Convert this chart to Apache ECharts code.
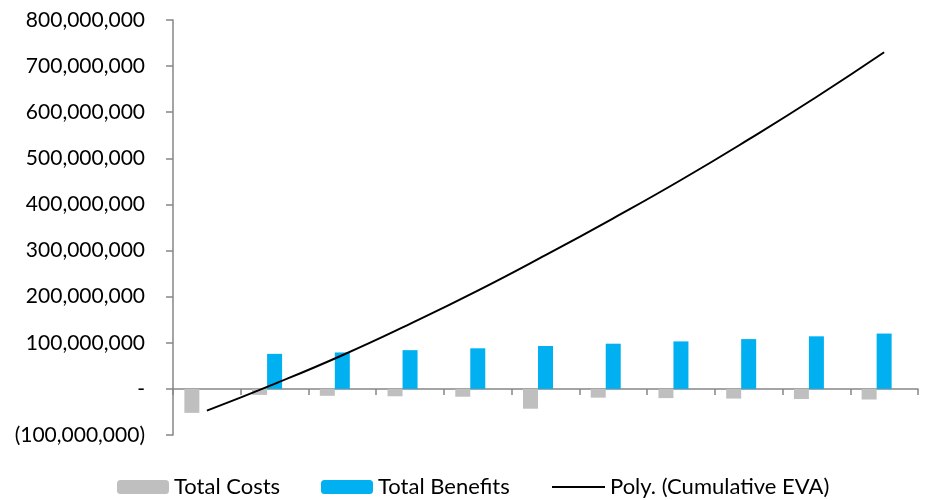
<!DOCTYPE html>
<html>
<head>
<meta charset="utf-8">
<script src="https://cdn.jsdelivr.net/npm/echarts@6/dist/echarts.min.js"></script>
<style>
  html, body { margin: 0; padding: 0; background: #fff; }
  #main { width: 925px; height: 500px; }
</style>
</head>
<body>
<div id="main"></div>
<script>
// years 0..10 (no axis labels shown)
var years = ['0', '1', '2', '3', '4', '5', '6', '7', '8', '9', '10'];
var totalCosts = [-52e6, -13e6, -15e6, -16e6, -17e6, -43e6, -19e6, -20e6, -21e6, -22e6, -23e6];
var totalBenefits = [0, 76e6, 79e6, 84e6, 88e6, 93e6, 98e6, 103e6, 108e6, 114e6, 120e6];
// trendline
var polyEVA = [-47e6, 11e6, 73e6, 141e6, 213e6, 290e6, 370e6, 453e6, 541e6, 633e6, 730e6];

var font = 'Lato';
var axisGray = '#868686';

function fmt(v) {
    if (v === 0) return '-';
    var s = Math.abs(v).toString().replace(/\B(?=(\d{3})+(?!\d))/g, ',');
    return v < 0 ? '(' + s + ')' : s;
}

var myChart = echarts.init(document.getElementById('main'));

var legendText = { fontFamily: font, fontSize: 22, color: '#000' };

option = {
    animation: false,
    grid: { left: 173, right: 7, top: 20, bottom: 65, containLabel: false },
    legend: [
        { data: ['Total Costs'], left: 117, top: 476, padding: 0, itemWidth: 52, itemHeight: 14, textStyle: legendText },
        { data: ['Total Benefits'], left: 321, top: 476, padding: 0, itemWidth: 52, itemHeight: 14, textStyle: legendText },
        {
            data: [{ name: 'Poly. (Cumulative EVA)', icon: 'rect' }],
            left: 552, top: 476, padding: 0, itemWidth: 53, itemHeight: 2,
            itemStyle: { color: '#000' },
            textStyle: legendText
        }
    ],
    xAxis: {
        type: 'category',
        data: years,
        boundaryGap: true,
        axisLine: { onZero: true, lineStyle: { color: axisGray, width: 1.5 } },
        axisTick: { show: true, length: 6, inside: false, lineStyle: { color: axisGray, width: 1.5 } },
        axisLabel: { show: false },
        splitLine: { show: false }
    },
    yAxis: {
        type: 'value',
        min: -100000000,
        max: 800000000,
        interval: 100000000,
        axisLine: { show: true, lineStyle: { color: axisGray, width: 1.5 } },
        axisTick: { show: true, length: 7, lineStyle: { color: axisGray, width: 1.5 } },
        splitLine: { show: false },
        axisLabel: {
            formatter: fmt,
            fontFamily: font,
            fontSize: 21,
            color: '#000',
            margin: 28
        }
    },
    series: [
        {
            name: 'Total Costs',
            type: 'bar',
            data: totalCosts,
            barWidth: 15,
            barGap: '0%',
            itemStyle: { color: '#BFBFBF' }
        },
        {
            name: 'Total Benefits',
            type: 'bar',
            data: totalBenefits,
            barWidth: 15,
            barGap: '0%',
            itemStyle: { color: '#00B0F0' }
        },
        {
            // cumulative EVA bars have no fill in the original, only their trendline shows
            name: 'Cumulative EVA',
            type: 'bar',
            data: polyEVA,
            barWidth: 15,
            barGap: '0%',
            itemStyle: { color: 'rgba(0,0,0,0)' },
            silent: true
        },
        {
            name: 'Poly. (Cumulative EVA)',
            type: 'line',
            data: polyEVA,
            smooth: true,
            symbol: 'none',
            lineStyle: { color: '#000', width: 2 },
            itemStyle: { color: '#000' },
            z: 5
        }
    ]
};

myChart.setOption(option);
</script>
</body>
</html>
